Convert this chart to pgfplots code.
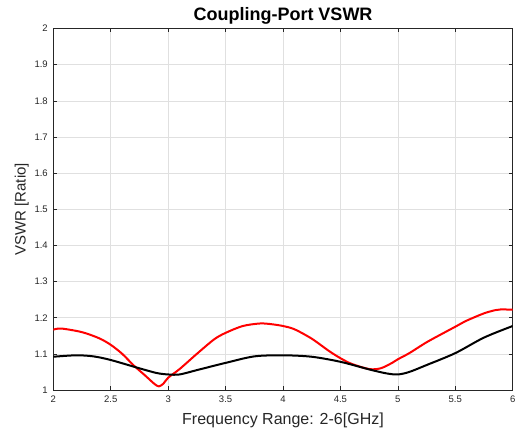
\documentclass[border=0pt]{standalone}
\usepackage{pgfplots}
\pgfplotsset{compat=1.18}
\usepackage{fontspec}
\setmainfont{Liberation Sans}
\definecolor{axgray}{rgb}{0.15,0.15,0.15}
\definecolor{gridgray}{rgb}{0.88,0.88,0.88}
\begin{document}
\begin{tikzpicture}
\begin{axis}[
  scale only axis,
  width=459.4bp, height=361.5bp,
  xmin=2, xmax=6, ymin=1, ymax=2,
  xtick={2,2.5,...,6}, ytick={1,1.1,...,2.01},
  xticklabels={2,2.5,3,3.5,4,4.5,5,5.5,6},
  yticklabels={1,1.1,1.2,1.3,1.4,1.5,1.6,1.7,1.8,1.9,2},
  tick align=inside, major tick length=4bp,
  tick style={axgray, line width=0.5bp},
  axis line style={axgray, line width=0.5bp},
  grid=major, major grid style={gridgray, line width=0.5bp},
  ticklabel style={font=\fontsize{9.5bp}{11bp}\selectfont, text=axgray},
  xticklabel style={yshift=-2bp},
  yticklabel style={xshift=-2bp},
  /pgf/number format/assume math mode=true,
  xlabel={Frequency Range: 2-6[GHz]},
  ylabel={VSWR [Ratio]},
  xlabel style={font=\fontsize{16bp}{18bp}\selectfont, text=axgray, yshift=-4bp},
  ylabel style={font=\fontsize{15bp}{17bp}\selectfont, text=axgray, yshift=-1bp},
  title={\textbf{Coupling-Port VSWR}},
  title style={font=\fontsize{18bp}{20bp}\selectfont, yshift=-5bp},
]
\addplot[red, line width=2bp, smooth, tension=0.5] coordinates {
(2,1.167) (2.07,1.170) (2.25,1.160) (2.4,1.143) (2.5,1.125) (2.6,1.100) (2.7,1.068) (2.8,1.040) (2.88,1.017) (2.92,1.010) (2.96,1.018) (3,1.034) (3.1,1.058) (3.25,1.100) (3.4,1.140) (3.5,1.158) (3.65,1.177) (3.8,1.184) (3.9,1.182) (4,1.177) (4.1,1.168) (4.25,1.142) (4.4,1.108) (4.5,1.088) (4.6,1.072) (4.75,1.058) (4.85,1.060) (4.95,1.075) (5,1.085) (5.1,1.102) (5.25,1.132) (5.4,1.158) (5.5,1.175) (5.6,1.192) (5.75,1.212) (5.85,1.221) (5.9,1.223) (6,1.222)
};
\addplot[black, line width=2bp, smooth, tension=0.5] coordinates {
(2,1.092) (2.2,1.096) (2.35,1.093) (2.5,1.083) (2.75,1.060) (2.9,1.047) (3,1.043) (3.1,1.043) (3.25,1.055) (3.5,1.075) (3.75,1.093) (4,1.096) (4.25,1.092) (4.5,1.078) (4.75,1.057) (4.9,1.046) (5,1.043) (5.1,1.050) (5.25,1.069) (5.5,1.102) (5.75,1.145) (6,1.177)
};
\end{axis}
\path (current axis.south west) ++(-53.3bp,-44bp) coordinate (bl);
\path (current axis.north east) ++(8.3bp,28.5bp) coordinate (tr);
\useasboundingbox (bl) rectangle (tr);
\end{tikzpicture}
\end{document}
